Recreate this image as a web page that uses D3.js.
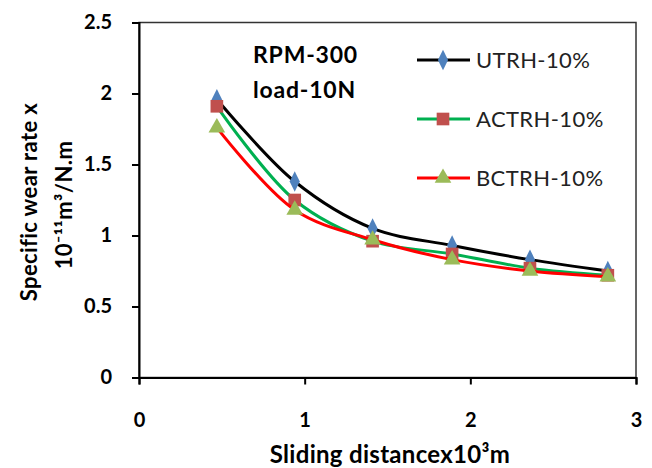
<!DOCTYPE html>
<html>
<head>
<meta charset="utf-8">
<style>
  body { margin: 0; background: #fff; }
  svg text { font-family: Lato, "Open Sans", sans-serif; fill: #000; }
  .tick text { font-weight: bold; font-size: 20px; }
</style>
</head>
<body>
<svg width="652" height="468"></svg>
<script src="https://cdn.jsdelivr.net/npm/d3@7"></script>
<script>
// sliding distance (x10^3 m)
var distance = [0.47, 0.94, 1.41, 1.89, 2.36, 2.83];
// specific wear rate (x10^-11 m^3/N.m)
var utrh  = [1.96, 1.38, 1.05, 0.93, 0.83, 0.75];
var actrh = [1.91, 1.25, 0.96, 0.87, 0.77, 0.72];
var bctrh = [1.76, 1.18, 0.97, 0.83, 0.75, 0.71];
var seriesNames = ["UTRH-10%", "ACTRH-10%", "BCTRH-10%"];
var xTicks = [0, 1, 2, 3];
var yTicks = [0, 0.5, 1, 1.5, 2, 2.5];

var svg = d3.select("svg");
var x = d3.scaleLinear().domain([0, 3]).range([139, 636]);
var y = d3.scaleLinear().domain([0, 2.5]).range([377.5, 22.5]);

// plot frame
svg.append("rect")
    .attr("x", x(0)).attr("y", y(2.5))
    .attr("width", x(3) - x(0)).attr("height", y(0) - y(2.5))
    .attr("fill", "none").attr("stroke", "#333").attr("stroke-width", 1.5);

var xAxis = svg.append("g")
    .attr("transform", "translate(0," + y(0) + ")")
    .call(d3.axisBottom(x).tickValues(xTicks).tickFormat(d3.format("d")).tickSize(7).tickPadding(28));
var yAxis = svg.append("g")
    .attr("transform", "translate(" + x(0) + ",0)")
    .call(d3.axisLeft(y).tickValues(yTicks).tickFormat(d => d).tickSize(7).tickPadding(20));
[xAxis, yAxis].forEach(function(g) {
  g.select(".domain").attr("stroke", "#000").attr("stroke-width", 2);
  g.selectAll(".tick line").attr("stroke", "#000").attr("stroke-width", 2);
});

var styles = [
  {line: "#000000", fill: "#4F81BD", shape: d3.symbolDiamond, size: 110, data: utrh},
  {line: "#00B050", fill: "#C0504D", shape: d3.symbolSquare, size: 160, data: actrh},
  {line: "#FF0000", fill: "#9BBB59", shape: d3.symbolTriangle, size: 120, data: bctrh}
];

var line = d3.line()
    .x(d => x(d[0]))
    .y(d => y(d[1]))
    .curve(d3.curveCatmullRom.alpha(0.5));

styles.forEach(function(s, i) {
  var pts = distance.map((d, j) => [d, s.data[j]]);
  svg.append("path")
      .datum(pts)
      .attr("d", line)
      .attr("fill", "none")
      .attr("stroke", s.line)
      .attr("stroke-width", 3);
  var sym = d3.symbol().type(s.shape).size(s.size);
  var squash = s.shape === d3.symbolDiamond ? " scale(0.9,1.05)" : "";
  svg.append("g").selectAll("path")
      .data(pts)
      .enter()
      .append("path")
      .attr("d", sym)
      .attr("transform", d => "translate(" + x(d[0]) + "," + y(d[1]) + ")" + squash)
      .attr("fill", s.fill);

  // legend
  var ly = 60 + i * 59;
  svg.append("line")
      .attr("x1", 417).attr("x2", 470).attr("y1", ly).attr("y2", ly)
      .attr("stroke", s.line).attr("stroke-width", 3);
  svg.append("path")
      .attr("d", sym)
      .attr("transform", "translate(443," + ly + ")" + squash)
      .attr("fill", s.fill);
  svg.append("text")
      .attr("x", 476).attr("y", ly + 8)
      .style("font-size", "22px")
      .style("letter-spacing", "0.4px")
      .style("fill", "#222")
      .text(seriesNames[i]);
});

// condition notes
svg.append("text").attr("x", 253).attr("y", 63)
    .style("font-size", "23px").style("font-weight", "bold").style("letter-spacing", "0.8px")
    .text("RPM-300");
svg.append("text").attr("x", 253).attr("y", 98)
    .style("font-size", "23px").style("font-weight", "bold").style("letter-spacing", "0.8px")
    .text("load-10N");

// axis titles
svg.append("text")
    .attr("x", 390).attr("y", 463)
    .attr("text-anchor", "middle")
    .style("font-size", "24px").style("font-weight", "bold").style("letter-spacing", "0.3px")
    .text("Sliding distancex10³m");

var yt = svg.append("text")
    .attr("transform", "translate(37,202) rotate(-90)")
    .attr("text-anchor", "middle")
    .style("font-size", "22px").style("font-weight", "bold").style("letter-spacing", "0.4px");
yt.append("tspan").attr("x", 0).attr("y", 0).text("Specific  wear rate x");
yt.append("tspan").attr("x", -3).attr("y", 35).text("10⁻¹¹m³/N.m");
</script>
</body>
</html>
